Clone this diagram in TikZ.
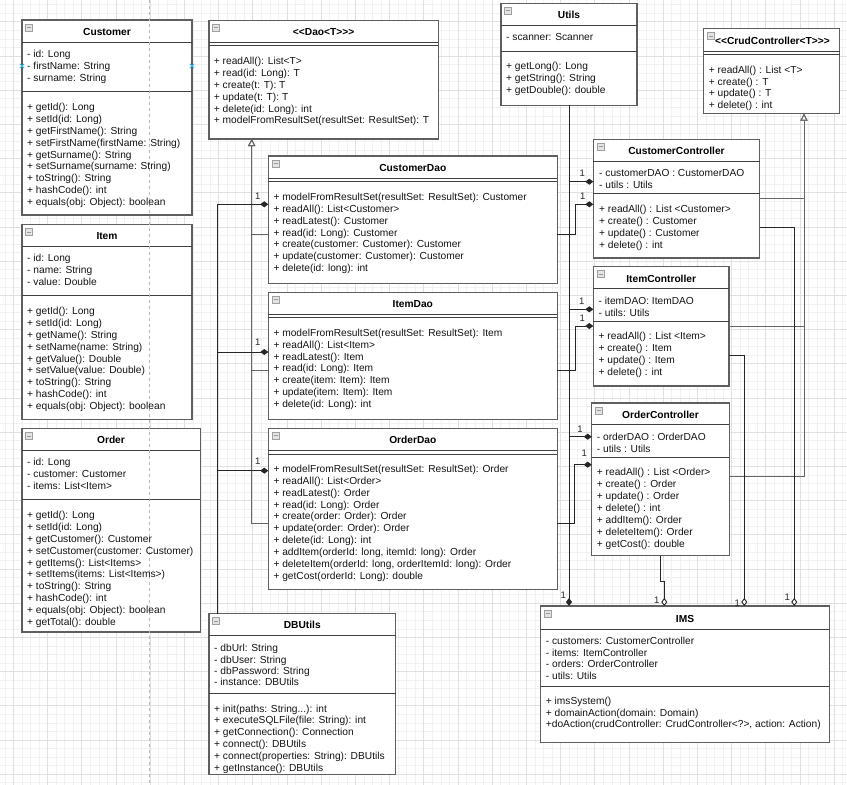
\documentclass[tikz,border=0pt]{standalone}
\usepackage{fontspec}
\setmainfont{Liberation Sans}
\usetikzlibrary{arrows.meta}
\definecolor{boxline}{RGB}{95,95,95}
\definecolor{gridminor}{RGB}{241,241,241}
\definecolor{gridmajor}{RGB}{224,224,224}
\definecolor{selblue}{RGB}{41,182,242}
\definecolor{pagebreak}{RGB}{185,185,185}
\tikzset{
  umlbox/.style={draw=boxline, line width=1.4pt, fill=white, inner sep=0pt, outer sep=0pt, anchor=north west},
  divider/.style={draw=black!75, line width=0.9pt},
  iconbox/.style={draw=gray!75, fill=gray!22, line width=0.6pt},
  iconminus/.style={draw=gray!80, line width=0.8pt},
  member/.style={inner sep=0pt, anchor=base west, font=\fontsize{10.2}{12}\selectfont, text=black!92},
  umltitle/.style={inner sep=0pt, anchor=base, font=\fontsize{10.2}{12}\selectfont\bfseries},
  lbl/.style={inner sep=0pt, font=\fontsize{9.5}{10}\selectfont, text=black!85},
  conn/.style={draw=black!85, line width=0.9pt},
  compF/.style={conn, -{Diamond[length=8pt,width=6pt]}},
  compO/.style={conn, -{Diamond[length=8pt,width=6pt,fill=white]}},
  inh/.style={draw=black!60, line width=1pt, -{Triangle[open,length=7pt,width=7pt,fill=white]}},
  selx/.style={draw=selblue, line width=0.8pt},
}
\newcommand\umlBox[7]{%
  \node[umlbox, minimum width={#4-#2}, minimum height={#5-#3}] (#1) at (#2,#3) {};
  \draw[divider] (#1.west |- 0,#6) -- (#1.east |- 0,#6);
  \draw[divider] (#1.west |- 0,#7) -- (#1.east |- 0,#7);
  \draw[iconbox] ([xshift=3.7pt,yshift=-4pt]#1.north west) rectangle ++(7,7);
  \draw[iconminus] ([xshift=5.2pt,yshift=-7.5pt]#1.north west) -- ++(4,0);
}
\newcommand\umlLines[5]{%
  \foreach \mline [count=\mi] in {#5} {
    \node[member] (#1-\mi) at (#2, {#3 + 3.7 + (\mi-1)*#4}) {\mline};
  }
}
\begin{document}
\begin{tikzpicture}[x=1pt,y=-1pt]
\useasboundingbox (0,0) rectangle (847,785);
\fill[white] (0,0) rectangle (847,785);
% grid
\foreach \k in {0,...,98} \draw[gridminor, line width=0.5pt] ({4.75+8.55*\k},0) -- ({4.75+8.55*\k},785);
\foreach \k in {0,...,91} \draw[gridminor, line width=0.5pt] (0,{4.6+8.55*\k}) -- (847,{4.6+8.55*\k});
\foreach \k in {0,...,24} \draw[gridmajor, line width=0.6pt] ({13.3+34.2*\k},0) -- ({13.3+34.2*\k},785);
\foreach \k in {0,...,22} \draw[gridmajor, line width=0.6pt] (0,{21.7+34.2*\k}) -- (847,{21.7+34.2*\k});

% boxes
\umlBox{Customer}{22}{20}{192}{215}{42.5}{91}
\umlBox{Item}{22}{224.5}{192}{419.5}{246.7}{295.3}
\umlBox{Order}{22}{428.5}{200.3}{632}{450.5}{499.7}
\umlBox{Dao}{209}{20.3}{438.3}{139}{42.3}{45.6}
\umlBox{Utils}{501}{3.3}{637}{105.3}{25.3}{51}
\umlBox{Crud}{703.7}{28.7}{839.7}{113.7}{51}{54.3}
\umlBox{CCtrl}{593.3}{139.3}{759.7}{258}{161.7}{193.3}
\umlBox{CDao}{268.3}{156}{557.3}{283.3}{178.3}{181.7}
\umlBox{IDao}{268.3}{292.3}{557.3}{419.3}{314.3}{317.7}
\umlBox{ODao}{268.3}{428.3}{557.3}{589.3}{450.7}{454}
\umlBox{ICtrl}{593.3}{266.7}{729}{386}{288.7}{321.7}
\umlBox{OCtrl}{591.7}{403}{729.3}{555.7}{424.7}{457.3}
\umlBox{IMS}{540.7}{606}{829.3}{742.3}{629}{686.7}
\umlBox{DBU}{209}{613.7}{395.7}{774.7}{635.3}{693.3}

% page break line
\draw[pagebreak, line width=0.8pt, dash pattern=on 3pt off 3pt] (149.7,0) -- (149.7,785);

% titles
\node[umltitle] (Customer-title) at (107,35.4) {Customer};
\node[umltitle] (Item-title) at (107,239.4) {Item};
\node[umltitle] (Order-title) at (111,443) {Order};
\node[umltitle] (Dao-title) at (323.6,35.4) {<{}<Dao<T>{}>{}>};
\node[umltitle] (Utils-title) at (569,18.4) {Utils};
\node[umltitle, anchor=base west] (Crud-title) at (715,44.4) {<{}<CrudController<T>{}>{}>};
\node[umltitle] (CCtrl-title) at (676.5,154.4) {CustomerController};
\node[umltitle] (CDao-title) at (412.8,171) {CustomerDao};
\node[umltitle] (IDao-title) at (412.8,307.4) {ItemDao};
\node[umltitle] (ODao-title) at (412.8,443.4) {OrderDao};
\node[umltitle] (ICtrl-title) at (661.2,282.4) {ItemController};
\node[umltitle] (OCtrl-title) at (660.5,418.4) {OrderController};
\node[umltitle] (IMS-title) at (685,622.4) {IMS};
\node[umltitle] (DBU-title) at (302.3,628) {DBUtils};

% members
\umlLines{Customer-a}{27}{54}{11.9}{{- id: Long},{- firstName: String},{- surname: String}}
\umlLines{Customer-m}{27}{107}{11.83}{{+ getId(): Long},{+ setId(id: Long)},{+ getFirstName(): String},{+ setFirstName(firstName: String)},{+ getSurname(): String},{+ setSurname(surname: String)},{+ toString(): String},{+ hashCode(): int},{+ equals(obj: Object): boolean}}
\umlLines{Item-a}{27}{258}{11.85}{{- id: Long},{- name: String},{- value: Double}}
\umlLines{Item-m}{27}{311}{11.83}{{+ getId(): Long},{+ setId(id: Long)},{+ getName(): String},{+ setName(name: String)},{+ getValue(): Double},{+ setValue(value: Double)},{+ toString(): String},{+ hashCode(): int},{+ equals(obj: Object): boolean}}
\umlLines{Order-a}{27}{462}{11.85}{{- id: Long},{- customer: Customer},{- items: List<Item>}}
\umlLines{Order-m}{27}{515}{11.85}{{+ getId(): Long},{+ setId(id: Long)},{+ getCustomer(): Customer},{+ setCustomer(customer: Customer)},{+ getItems(): List<Items>},{+ setItems(items: List<Items>)},{+ toString(): String},{+ hashCode(): int},{+ equals(obj: Object): boolean},{+ getTotal(): double}}
\umlLines{Dao-m}{213.7}{60.7}{11.9}{{+ readAll(): List<T>},{+ read(id: Long): T},{+ create(t: T): T},{+ update(t: T): T},{+ delete(id: Long): int},{+ modelFromResultSet(resultSet: ResultSet): T}}
\umlLines{Utils-a}{506}{36.7}{12}{{- scanner: Scanner}}
\umlLines{Utils-m}{506}{65.7}{12}{{+ getLong(): Long},{+ getString(): String},{+ getDouble(): double}}
\umlLines{Crud-m}{708.7}{69.7}{11.7}{{+ readAll() : List <T>},{+ create() : T},{+ update() : T},{+ delete() : int}}
\umlLines{CCtrl-a}{599}{172.7}{11.7}{{- customerDAO : CustomerDAO},{- utils : Utils}}
\umlLines{CCtrl-m}{599}{208.7}{12}{{+ readAll() : List <Customer>},{+ create() : Customer},{+ update() : Customer},{+ delete() : int}}
\umlLines{CDao-m}{273.3}{196.7}{11.88}{{+ modelFromResultSet(resultSet: ResultSet): Customer},{+ readAll(): List<Customer>},{+ readLatest(): Customer},{+ read(id: Long): Customer},{+ create(customer: Customer): Customer},{+ update(customer: Customer): Customer},{+ delete(id: long): int}}
\umlLines{IDao-m}{273.3}{332.7}{11.83}{{+ modelFromResultSet(resultSet: ResultSet): Item},{+ readAll(): List<Item>},{+ readLatest(): Item},{+ read(id: Long): Item},{+ create(item: Item): Item},{+ update(item: Item): Item},{+ delete(id: Long): int}}
\umlLines{ODao-m}{273.3}{468.7}{11.89}{{+ modelFromResultSet(resultSet: ResultSet): Order},{+ readAll(): List<Order>},{+ readLatest(): Order},{+ read(id: Long): Order},{+ create(order: Order): Order},{+ update(order: Order): Order},{+ delete(id: Long): int},{+ addItem(orderId: long, itemId: long): Order},{+ deleteItem(orderId: long, orderItemId: long): Order},{+ getCost(orderId: Long): double}}
\umlLines{ICtrl-a}{598.5}{300.7}{12}{{- itemDAO: ItemDAO},{- utils: Utils}}
\umlLines{ICtrl-m}{598.5}{335.7}{12}{{+ readAll() : List <Item>},{+ create() : Item},{+ update() : Item},{+ delete() : int}}
\umlLines{OCtrl-a}{596.7}{436.4}{12.2}{{- orderDAO : OrderDAO},{- utils : Utils}}
\umlLines{OCtrl-m}{596.7}{471.3}{12.07}{{+ readAll() : List <Order>},{+ create() : Order},{+ update() : Order},{+ delete() : int},{+ addItem(): Order},{+ deleteItem(): Order},{+ getCost(): double}}
\umlLines{IMS-a}{545.7}{640.7}{11.7}{{- customers: CustomerController},{- items: ItemController},{- orders: OrderController},{- utils: Utils}}
\umlLines{IMS-m}{545.7}{700.7}{11.7}{{+ imsSystem()},{+ domainAction(domain: Domain)},{+doAction(crudController: CrudController<?>, action: Action)}}
\umlLines{DBU-a}{214}{648}{11.4}{{- dbUrl: String},{- dbUser: String},{- dbPassword: String},{- instance: DBUtils}}
\umlLines{DBU-m}{214}{708.3}{11.8}{{+ init(paths: String{...}): int},{+ executeSQLFile(file: String): int},{+ getConnection(): Connection},{+ connect(): DBUtils},{+ connect(properties: String): DBUtils},{+ getInstance(): DBUtils}}

% selection markers
\draw[selx] (22,66) +(-2.2,-2.2) -- +(2.2,2.2) +(-2.2,2.2) -- +(2.2,-2.2);
\draw[selx] (192,66) +(-2.2,-2.2) -- +(2.2,2.2) +(-2.2,2.2) -- +(2.2,-2.2);

% Dao inheritance
\draw[inh] (CDao.west |- 0,234.7) -| (Dao.south -| 251.7,0);
\draw[inh] (IDao.west |- 0,370.3) -| (Dao.south -| 251.7,0);
\draw[inh] (ODao.west |- 0,523.3) -| (Dao.south -| 251.7,0);
% CrudController inheritance
\draw[inh] (CCtrl.east |- 0,198.7) -| (Crud.south -| 804,0);
\draw[inh] (ICtrl.east |- 0,326) -| (Crud.south -| 804,0);
\draw[inh] (OCtrl.east |- 0,476) -| (Crud.south -| 804,0);

% DBUtils -> DAOs
\draw[compF] (DBU.north -| 217.3,0) |- (CDao.west |- 0,204.3);
\draw[compF] (DBU.north -| 217.3,0) |- (IDao.west |- 0,352);
\draw[compF] (DBU.north -| 217.3,0) |- (ODao.west |- 0,470.7);
\node[lbl] (l-cdao) at (257.7,196) {1};
\node[lbl] (l-idao) at (257.7,342) {1};
\node[lbl] (l-odao) at (257.7,461) {1};

% Utils -> controllers and IMS
\draw[compF] (Utils.south -| 569,0) |- (CCtrl.west |- 0,181.7);
\draw[compF] (Utils.south -| 569,0) |- (ICtrl.west |- 0,309.3);
\draw[compF] (Utils.south -| 569,0) |- (OCtrl.west |- 0,436.7);
\draw[compF] (Utils.south -| 569,0) -- (IMS.north -| 569,0);

% DAOs -> controllers
\draw[compF] (CDao.east |- 0,234.3) -- ++(17.7,0) |- (CCtrl.west |- 0,204.3);
\draw[compF] (IDao.east |- 0,370) -- ++(17.7,0) |- (ICtrl.west |- 0,326);
\draw[compF] (ODao.east |- 0,523.3) -- ++(17,0) |- (OCtrl.west |- 0,464.7);
\node[lbl] (l-cc1) at (582.3,173.3) {1};
\node[lbl] (l-cc2) at (582.7,196.7) {1};
\node[lbl] (l-ic1) at (581.7,301.3) {1};
\node[lbl] (l-ic2) at (582.3,318.7) {1};
\node[lbl] (l-oc1) at (580,429.3) {1};
\node[lbl] (l-oc2) at (584.3,453.3) {1};

% controllers -> IMS
\draw[compO] (CCtrl.east |- 0,227.7) -| (IMS.north -| 794.3,0);
\draw[compO] (ICtrl.east |- 0,355.3) -| (IMS.north -| 744.3,0);
\draw[compO] (OCtrl.south -| 660,0) -- ++(0,25.3) -| (IMS.north -| 664.3,0);
\node[lbl] (l-ims1) at (563.3,595.5) {1};
\node[lbl] (l-ims2) at (656.7,600) {1};
\node[lbl] (l-ims3) at (737.3,603) {1};
\node[lbl] (l-ims4) at (787.3,597) {1};
\end{tikzpicture}
\end{document}
